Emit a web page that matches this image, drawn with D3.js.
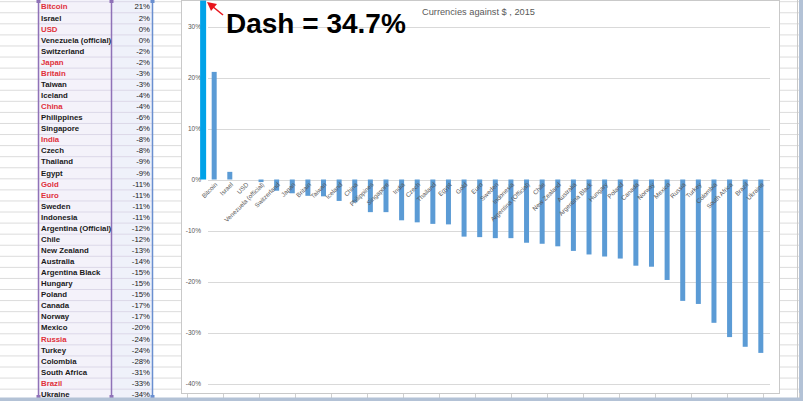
<!DOCTYPE html>
<html><head><meta charset="utf-8">
<script src="https://cdn.jsdelivr.net/npm/d3@7/dist/d3.min.js"></script>
<style>body{margin:0;background:#fff}svg{display:block}</style>
</head><body>
<svg id="c" width="803" height="401"></svg>
<script>
const categories = ["Bitcoin","Israel","USD","Venezuela (official)","Switzerland","Japan","Britain","Taiwan","Iceland","China","Philippines","Singapore","India","Czech","Thailand","Egypt","Gold","Euro","Sweden","Indonesia","Argentina (Official)","Chile","New Zealand","Australia","Argentina Black","Hungary","Poland","Canada","Norway","Mexico","Russia","Turkey","Colombia","South Africa","Brazil","Ukraine"];
const chartLabels = ["Bitcoin","Israel","USD","Venezuela (official)","Switzerland","Japan","Britain","Taiwan","Iceland","China","Philippines","Singapore","India","Czech","Thailand","Egypt","Gold","Euro","Sweden","Indonesia","Argentina (Official)","Chile","New Zealand","Australia","Argentina Black","Hungary","Poland","Canada","Norway","Mexico","Russia","Turkey","Colombia","South Africa","Brazil","Ukraine"];
const values = [21.1,1.5,0,-0.5,-2.2,-2.7,-3.2,-3.3,-4.2,-4.5,-6.4,-6.4,-8.0,-8.4,-8.7,-8.8,-11.2,-11.3,-11.5,-11.5,-12.4,-12.6,-13.1,-14.0,-14.7,-15.1,-15.5,-16.9,-17.1,-19.7,-23.8,-24.4,-28.1,-30.9,-32.8,-34.0];
const tableLabels = ["21%","2%","0%","0%","-2%","-2%","-3%","-3%","-4%","-4%","-6%","-6%","-8%","-8%","-9%","-9%","-11%","-11%","-11%","-11%","-12%","-12%","-13%","-14%","-15%","-15%","-15%","-17%","-17%","-20%","-24%","-24%","-28%","-31%","-33%","-34%"];
const redNames = ["Bitcoin","USD","Japan","Britain","China","India","Gold","Euro","Russia","Brazil"];
const yTicks = [30,20,10,0,-10,-20,-30,-40];
const dashValue = 34.7;
const titleText = "Currencies against $ , 2015";
const dashText = "Dash = 34.7%";

const svg = d3.select("#c");
const gridCol = "#dcdcdc";

// ---- spreadsheet background ----
const rowY = d3.scaleLinear().domain([0, 36]).range([1.2, 1.2 + 11.07*36]);
const rows = d3.range(0, 37);
// left white cells
svg.append("g").selectAll("line").data(rows).join("line")
  .attr("x1",0).attr("x2",181).attr("y1",d=>rowY(d)+0.5).attr("y2",d=>rowY(d)+0.5)
  .attr("stroke",gridCol);
// table columns
svg.append("rect").attr("x",38).attr("y",0).attr("width",73).attr("height",398).attr("fill","#f4f2fa");
svg.append("rect").attr("x",111).attr("y",0).attr("width",41).attr("height",398).attr("fill","#eff1fa");
svg.append("g").selectAll("line").data(rows).join("line")
  .attr("x1",38).attr("x2",152).attr("y1",d=>rowY(d)+0.5).attr("y2",d=>rowY(d)+0.5)
  .attr("stroke","#dcd8e8");
svg.append("line").attr("x1",38.5).attr("x2",38.5).attr("y1",0).attr("y2",398).attr("stroke","#8f72b8").attr("stroke-width",1.5);
svg.append("line").attr("x1",111.5).attr("x2",111.5).attr("y1",0).attr("y2",398).attr("stroke","#8f72b8").attr("stroke-width",1.5);
svg.append("line").attr("x1",152.5).attr("x2",152.5).attr("y1",0).attr("y2",398).attr("stroke","#6a8fd0").attr("stroke-width",1.5);
[[38.5,"#8f72b8"],[111.5,"#8f72b8"],[152.5,"#6a8fd0"]].forEach(([x,c])=>{
  svg.append("rect").attr("x",x-2).attr("y",0).attr("width",4).attr("height",3).attr("fill",c);
  svg.append("rect").attr("x",x-2).attr("y",395).attr("width",4).attr("height",3).attr("fill",c);
});
// table texts
svg.append("g").selectAll("text").data(categories).join("text")
  .attr("x",41).attr("y",(d,i)=>(rowY(i)+rowY(i+1))/2).attr("dy","0.35em")
  .attr("font-family","Liberation Sans, Arial, sans-serif").attr("font-size",7.8).attr("font-weight","bold")
  .attr("fill",d=>redNames.includes(d)?"#e0303a":"#1a1a1a").text(d=>d);
svg.append("g").selectAll("text").data(tableLabels).join("text")
  .attr("x",150).attr("y",(d,i)=>(rowY(i)+rowY(i+1))/2).attr("dy","0.35em").attr("text-anchor","end")
  .attr("font-family","Liberation Sans, Arial, sans-serif").attr("font-size",7.8)
  .attr("fill","#1a1a1a").text(d=>d);
// right cells
svg.append("g").selectAll("line").data(rows).join("line")
  .attr("x1",780).attr("x2",803).attr("y1",d=>rowY(d)+0.5).attr("y2",d=>rowY(d)+0.5)
  .attr("stroke",gridCol);
svg.append("line").attr("x1",797.5).attr("x2",797.5).attr("y1",0).attr("y2",401).attr("stroke","#c8c8c8");
svg.append("rect").attr("x",799).attr("y",0).attr("width",4).attr("height",401).attr("fill","#b3c2d6");
// bottom cells
svg.append("g").selectAll("line").data(d3.range(0,18)).join("line")
  .attr("x1",d=>187.5+d*36).attr("x2",d=>187.5+d*36).attr("y1",393).attr("y2",398).attr("stroke","#cfcfcf");
svg.append("rect").attr("x",0).attr("y",397.5).attr("width",803).attr("height",4).attr("fill","#b3c2d6");

// ---- chart area ----
svg.append("rect").attr("x",181.5).attr("y",0.5).attr("width",598).attr("height",393)
  .attr("fill","#fff").attr("stroke","#c9c9c9");

const x = d3.scaleBand().domain(categories).range([207,768]).paddingInner(0.68).paddingOuter(0.3);
const y = d3.scaleLinear().domain([-40,30]).range([383.5,26.5]);

// gridlines
svg.append("g").selectAll("line").data(yTicks).join("line")
  .attr("x1",208).attr("x2",770).attr("y1",d=>Math.round(y(d))+0.5).attr("y2",d=>Math.round(y(d))+0.5)
  .attr("stroke","#d9d9d9");
// y labels
svg.append("g").selectAll("text").data(yTicks).join("text")
  .attr("x",201).attr("y",d=>y(d)).attr("dy","0.35em").attr("text-anchor","end")
  .attr("font-family","Liberation Sans, Arial, sans-serif").attr("font-size",6.5)
  .attr("fill","#595959").text(d=>d+"%");

// title
svg.append("text").attr("x",422).attr("y",15).attr("textLength",113).attr("lengthAdjust","spacingAndGlyphs")
  .attr("font-family","Liberation Sans, Arial, sans-serif").attr("font-size",9.5).attr("fill","#595959").text(titleText);

// bars
svg.append("g").selectAll("rect").data(values).join("rect")
  .attr("x",(d,i)=>x(categories[i]))
  .attr("width",x.bandwidth())
  .attr("y",d=>Math.min(y(d),y(0)))
  .attr("height",d=>Math.abs(y(d)-y(0)))
  .attr("fill","#5b9bd5");

// dash bar (annotation bar left of Bitcoin)
const dashX = x(categories[0]) - x.step()*0.74;
svg.append("rect").attr("x",dashX).attr("width",6).attr("y",y(dashValue)-2).attr("height",y(0)-y(dashValue)+2).attr("fill","#00a2e8");

// category labels
svg.append("g").selectAll("text").data(chartLabels).join("text")
  .attr("transform",(d,i)=>`translate(${x(categories[i])+x.bandwidth()/2+2},${y(0)+4}) rotate(-45)`)
  .attr("text-anchor","end").attr("dy","0.35em")
  .attr("font-family","Liberation Sans, Arial, sans-serif").attr("font-size",6.3)
  .attr("fill","#595959").text(d=>d);

// annotation
svg.append("text").attr("x",226).attr("y",33)
  .attr("font-family","Liberation Sans, Arial, sans-serif").attr("font-size",28).attr("font-weight","bold")
  .attr("fill","#000").text(dashText);
svg.append("line").attr("x1",223).attr("y1",15).attr("x2",212).attr("y2",6).attr("stroke","#e8141c").attr("stroke-width",1.5);
svg.append("polygon").attr("points","207,2 217,4 211,11").attr("fill","#e8141c");
</script>
</body></html>
